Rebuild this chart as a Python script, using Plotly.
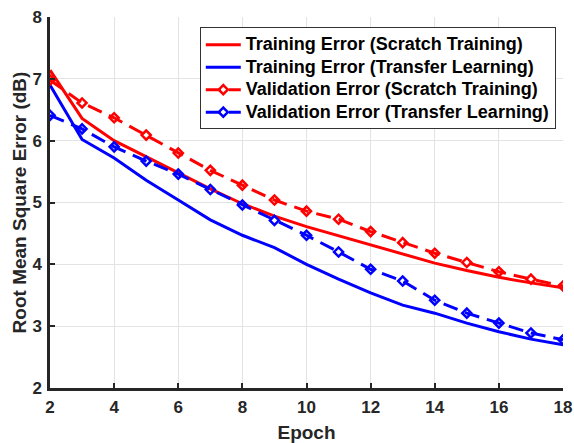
import plotly.graph_objects as go

epochs = list(range(2, 19))
train_scratch = [7.14, 6.36, 6.00, 5.74, 5.47, 5.22, 4.98, 4.78, 4.61, 4.46, 4.31, 4.16, 4.02, 3.90, 3.79, 3.70, 3.62]
train_transfer = [6.90, 6.02, 5.72, 5.36, 5.04, 4.72, 4.47, 4.27, 4.00, 3.76, 3.54, 3.34, 3.21, 3.05, 2.91, 2.79, 2.70]
val_scratch = [6.98, 6.61, 6.37, 6.09, 5.80, 5.52, 5.28, 5.04, 4.86, 4.73, 4.53, 4.35, 4.18, 4.03, 3.88, 3.76, 3.65]
val_transfer = [6.41, 6.19, 5.90, 5.67, 5.46, 5.21, 4.96, 4.71, 4.47, 4.20, 3.92, 3.73, 3.42, 3.21, 3.05, 2.89, 2.78]

x_ticks = [2, 4, 6, 8, 10, 12, 14, 16, 18]
y_ticks = [2, 3, 4, 5, 6, 7, 8]

names = ["Training Error (Scratch Training)", "Training Error (Transfer Learning)",
         "Validation Error (Scratch Training)", "Validation Error (Transfer Learning)"]

RED = "#ff0000"
BLUE = "#0000ff"
TXT = "#262626"


def legend_label(s):
    return "<span style='font-size:18px'>" + s + "</span>"


fig = go.Figure()
fig.add_trace(go.Scatter(x=epochs, y=train_scratch, mode="lines", name=legend_label(names[0]),
                         line=dict(color=RED, width=3)))
fig.add_trace(go.Scatter(x=epochs, y=train_transfer, mode="lines", name=legend_label(names[1]),
                         line=dict(color=BLUE, width=3)))
fig.add_trace(go.Scatter(x=epochs, y=val_scratch, mode="lines+markers", name=legend_label(names[2]),
                         line=dict(color=RED, width=3, dash="15px,8px"),
                         marker=dict(symbol="diamond-open", size=7, color=RED, line=dict(width=2.5, color=RED))))
fig.add_trace(go.Scatter(x=epochs, y=val_transfer, mode="lines+markers", name=legend_label(names[3]),
                         line=dict(color=BLUE, width=3, dash="15px,8px"),
                         marker=dict(symbol="diamond-open", size=7, color=BLUE, line=dict(width=2.5, color=BLUE))))

font_family = "Liberation Sans, Arial, sans-serif"
fig.update_layout(
    width=574, height=443,
    margin=dict(l=50, r=11, t=17, b=55, autoexpand=False),
    paper_bgcolor="white", plot_bgcolor="white",
    font=dict(family=font_family, color=TXT, size=17),
    legend=dict(x=0.292, y=0.972, xanchor="left", yanchor="top",
                bgcolor="white", bordercolor="#333333", borderwidth=1,
                font=dict(size=15, family=font_family, color="black", weight="bold"),
                tracegroupgap=0, itemwidth=35),
    showlegend=True,
)
fig.update_xaxes(range=[2, 18], tickvals=x_ticks, automargin=True,
                 showgrid=True, gridcolor="#e3e3e3", gridwidth=1,
                 showline=True, linecolor=TXT, linewidth=2.5, mirror=False,
                 ticks="inside", ticklen=5, tickwidth=2, tickcolor=TXT,
                 tickfont=dict(size=17, weight="bold", color=TXT),
                 ticklabelstandoff=2,
                 title=dict(text="Epoch", font=dict(size=19, weight="bold", color=TXT), standoff=11),
                 zeroline=False)
fig.update_yaxes(range=[2, 8], tickvals=y_ticks, automargin=True,
                 showgrid=True, gridcolor="#e3e3e3", gridwidth=1,
                 showline=True, linecolor=TXT, linewidth=2.5, mirror=False,
                 ticks="inside", ticklen=5, tickwidth=2, tickcolor=TXT,
                 tickfont=dict(size=17, weight="bold", color=TXT),
                 ticklabelstandoff=2,
                 title=dict(text="Root Mean Square Error (dB)", font=dict(size=19, weight="bold", color=TXT), standoff=1),
                 zeroline=False)

fig.write_html("out.html")
